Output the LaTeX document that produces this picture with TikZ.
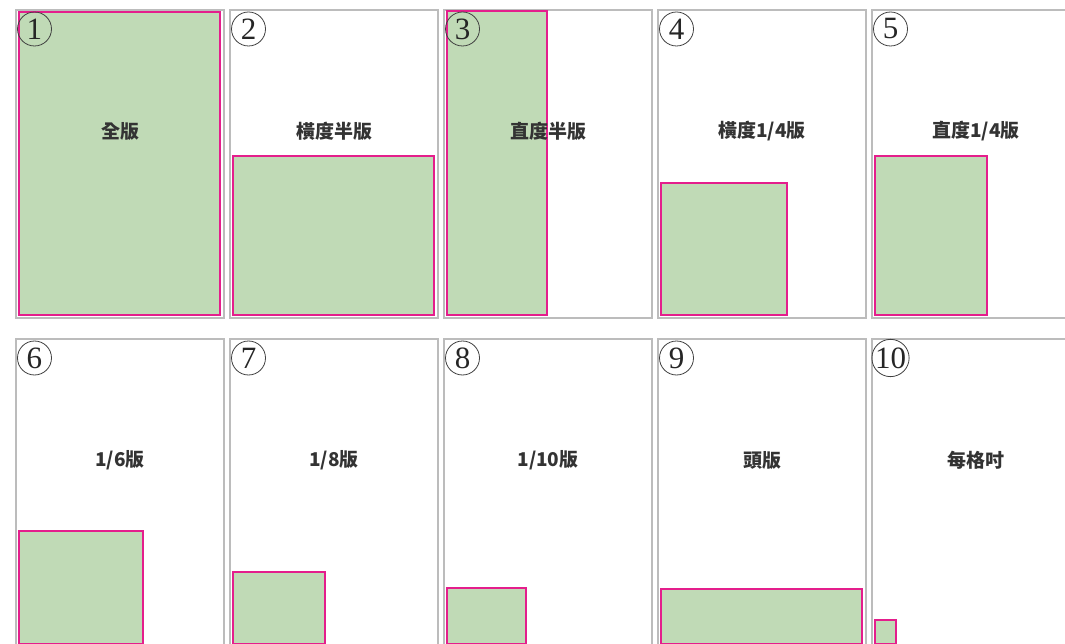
\documentclass[tikz,border=0pt]{standalone}
\usepackage{fontspec}
\newfontfamily\cjk{Noto Sans CJK TC}
\newfontfamily\numfont{Liberation Serif}
\definecolor{adgreen}{RGB}{192,218,182}
\definecolor{adpink}{RGB}{228,30,140}
\definecolor{sheetgray}{RGB}{188,188,188}
\tikzset{
    sheet/.style={draw=sheetgray,line width=1.3pt},
    adbox/.style={draw=adpink,fill=adgreen,line width=1.1pt},
    numring/.style={circle,draw=black!75,line width=0.8pt,minimum size=34pt,
        inner sep=0pt,font=\numfont\fontsize{31}{31}\selectfont,text=black!85},
    sizelabel/.style={font=\cjk\bfseries\fontsize{19}{19}\selectfont,text=black!80}
}
% x, y, number, label, ad width, ad height
\newcommand\sheet[6]{
    \draw[sheet] (#1,#2) rectangle ++(208,308);
    \draw[adbox] (#1+3,#2+305) rectangle ++(#5,-#6);
    \node[numring]   (n#3) at (#1+18.5,#2+19) {#3};
    \node[sizelabel] (t#3) at (#1+104,#2+121) {#4};
}

\begin{document}
\begin{tikzpicture}[x=1pt,y=-1pt]
    \useasboundingbox (0,0) rectangle (1065,644);
    \clip (0,0) rectangle (1065,644);
    \sheet{16}{10}{1}{全版}{201}{303}
    \sheet{230}{10}{2}{橫度半版}{201}{159}
    \sheet{444}{10}{3}{直度半版}{100}{304}
    \sheet{658}{10}{4}{橫度1/4版}{126}{132}
    \sheet{872}{10}{5}{直度1/4版}{112}{159}
    \sheet{16}{339}{6}{1/6版}{124}{113}
    \sheet{230}{339}{7}{1/8版}{92}{72}
    \sheet{444}{339}{8}{1/10版}{79}{56}
    \sheet{658}{339}{9}{頭版}{201}{55}
    \sheet{872}{339}{10}{每格吋}{21}{24}
\end{tikzpicture}
\end{document}
